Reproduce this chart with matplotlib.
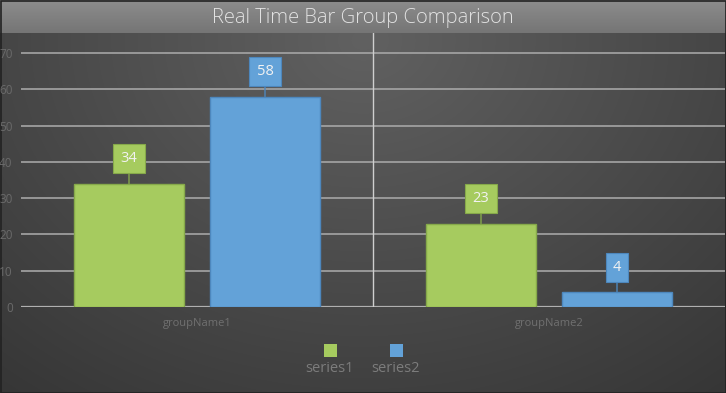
import numpy as np
import matplotlib
matplotlib.use("Agg")
import matplotlib.pyplot as plt
from matplotlib.patches import Rectangle

# Chart data
groups = ["groupName1", "groupName2"]
series_names = ["series1", "series2"]
series1 = [34, 23]
series2 = [58, 4]
y_ticks = [0, 10, 20, 30, 40, 50, 60, 70]
title = "Real Time Bar Group Comparison"

colors = ["#a6cb5f", "#63a2d8"]
edge_colors = ["#86a94a", "#4d87bd"]

W, H = 726, 393
fig = plt.figure(figsize=(W / 100, H / 100), dpi=100)
fig.patch.set_facecolor("#3c3c3c")

# Background gradient (lighter towards the top centre)
bg = fig.add_axes([0, 0, 1, 1], zorder=-10)
bg.set_axis_off()
yy, xx = np.mgrid[0:H, 0:W]
d = np.sqrt(((xx - W / 2) / (W * 0.75)) ** 2 + ((yy - 40) / (H * 1.1)) ** 2)
shade = np.clip(0.38 - 0.16 * d, 0.2, 0.4)
img = np.dstack([shade, shade, shade])
# title band
band = 33
tb = np.linspace(0.55, 0.46, band)[:, None] * np.ones((1, W))
img[:band] = np.dstack([tb, tb, tb])
bg.imshow(img, aspect="auto", extent=[0, W, H, 0], interpolation="bilinear")
bg.set_xlim(0, W)
bg.set_ylim(H, 0)
# outer border
bg.add_patch(Rectangle((0.5, 0.5), W - 1, H - 1, fill=False, ec="#222222", lw=1.2))

fig.text(363 / W, 1 - 18 / H, title, ha="center", va="center", fontsize=14.5,
         color="#e2e2e2", family="Open Sans", fontweight="light")

# Main axes: x from 22 to 726 px, y from 33 to 307 px
left, right, top, bottom = 21, 725, 33, 307
ax = fig.add_axes([left / W, 1 - bottom / H, (right - left) / W, (bottom - top) / H])
ax.set_facecolor("none")
px_per_unit = (307 - 53) / 70.0
ax.set_ylim(0, (bottom - top) / px_per_unit)
ax.set_xlim(-0.5, len(groups) - 0.5)

for s in ax.spines.values():
    s.set_visible(False)
ax.axhline(0, color="#b0b0b0", lw=1.6, zorder=1)

ax.set_yticks(y_ticks)
ax.set_yticklabels([str(t) for t in y_ticks], family="Open Sans", fontsize=8.5, color="#6a6a6a")
ax.tick_params(axis="y", length=0, pad=6)
for t in y_ticks[1:]:
    ax.axhline(t, color="#a5a5a5", lw=1.2, zorder=1)

ax.set_xticks(range(len(groups)))
ax.set_xticklabels(groups, family="Open Sans", fontsize=8, color="#707070")
ax.tick_params(axis="x", length=0, pad=8)

# separator between groups
ax.axvline(0.5, ymin=0, ymax=1, color="#cfcfcf", lw=1.0, zorder=1)

bar_w = 110 / 352.0
offset = (110 + 26) / 2 / 352.0
x = np.arange(len(groups))
for i, vals in enumerate([series1, series2]):
    xs = x + (-offset if i == 0 else offset)
    ax.bar(xs, vals, width=bar_w, color=colors[i], edgecolor=edge_colors[i],
           linewidth=1.0, zorder=3)
    for xi, v in zip(xs, vals):
        ax.annotate(str(v), xy=(xi, v), xytext=(0, 18), textcoords="offset points",
                    ha="center", va="center", fontsize=10.5, color="#f2f2f2",
                    family="Open Sans", zorder=4,
                    bbox=dict(boxstyle="square,pad=0.5", fc=colors[i],
                              ec=edge_colors[i], lw=0.8),
                    arrowprops=dict(arrowstyle="-", color=edge_colors[i], lw=1.0,
                                    shrinkA=0, shrinkB=0))

# Legend
for cx, name, c in zip([330, 396], series_names, colors):
    bg.add_patch(Rectangle((cx - 6.5, 344), 13, 13, fc=c, ec="none"))
    bg.text(cx, 369, name, ha="center", va="center", fontsize=10.5,
            color="#7c7c7c", family="Open Sans")

fig.savefig("out.png", dpi=100, facecolor=fig.get_facecolor())
